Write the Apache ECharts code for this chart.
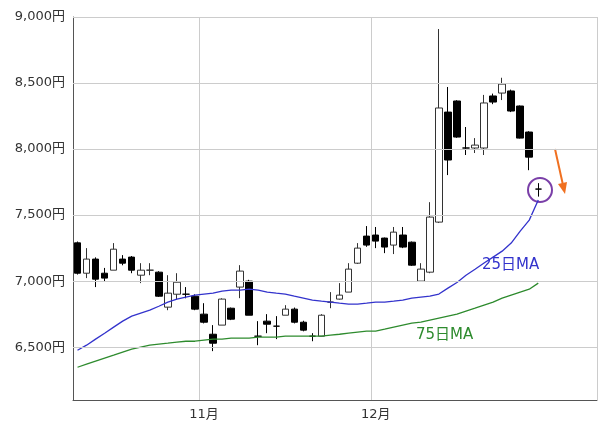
<!DOCTYPE html>
<html>
<head>
<meta charset="utf-8">
<script src="https://cdn.jsdelivr.net/npm/echarts@6/dist/echarts.min.js"></script>
<style>html,body{margin:0;padding:0;background:#fff}#main{width:600px;height:432px}</style>
</head>
<body>
<div id="main"></div>
<script>
// [open, close, low, high]
var candles = [
  [7290, 7060, 7050, 7300], [7060, 7167, 7023, 7250], [7167, 7015, 6955, 7180], [7060, 7023, 6995, 7100],
  [7083, 7242, 7083, 7288], [7167, 7136, 7120, 7197], [7182, 7083, 7060, 7190], [7045, 7083, 6985, 7136],
  [7083, 7083, 7045, 7136], [7068, 6886, 6880, 7075], [6803, 6909, 6780, 7045], [6901, 6992, 6860, 7060],
  [6901, 6901, 6870, 6955], [6886, 6788, 6780, 6900], [6750, 6689, 6680, 6833], [6598, 6530, 6470, 6667],
  [6667, 6864, 6667, 6870], [6795, 6712, 6705, 6800], [6955, 7076, 6871, 7121], [7000, 6742, 6742, 7010],
  [6583, 6583, 6515, 6697], [6697, 6674, 6606, 6750], [6659, 6659, 6561, 6735], [6742, 6788, 6742, 6818],
  [6788, 6689, 6680, 6800], [6689, 6629, 6620, 6700], [6583, 6583, 6545, 6606], [6583, 6742, 6583, 6750],
  [6841, 6841, 6795, 6917], [6864, 6894, 6860, 6985], [6917, 7091, 6917, 7136], [7136, 7250, 7130, 7288],
  [7341, 7273, 7260, 7417], [7349, 7303, 7250, 7410], [7326, 7258, 7212, 7330], [7273, 7371, 7205, 7410],
  [7349, 7258, 7250, 7410], [7295, 7121, 7115, 7300], [7000, 7091, 7000, 7136], [7068, 7485, 7060, 7598],
  [7447, 8311, 7440, 8909], [8280, 7917, 7803, 8470], [8364, 8091, 8085, 8370], [8008, 8008, 7955, 8167],
  [8008, 8030, 7970, 8083], [8008, 8349, 7955, 8410], [8402, 8356, 8340, 8420], [8424, 8492, 8371, 8540],
  [8440, 8288, 8280, 8450], [8326, 8083, 8080, 8330], [8129, 7939, 7840, 8135], [7697, 7697, 7640, 7742]
];
var ma25 = [
  6477, 6515, 6561, 6606, 6652, 6697, 6735, 6758, 6780, 6810, 6841, 6864, 6879, 6894, 6902, 6909,
  6924, 6932, 6932, 6939, 6932, 6917, 6909, 6902, 6886, 6871, 6856, 6848, 6841, 6833, 6826, 6826,
  6833, 6841, 6841, 6848, 6856, 6871, 6879, 6886, 6902, 6947, 6990, 7045, 7090, 7137, 7182, 7227,
  7288, 7379, 7462, 7614
];
var ma75 = [
  6348, 6371, 6394, 6417, 6439, 6462, 6485, 6500, 6515, 6523, 6530, 6538, 6545, 6545, 6553, 6561,
  6561, 6568, 6568, 6568, 6576, 6576, 6576, 6583, 6583, 6583, 6583, 6583, 6591, 6598, 6606, 6614,
  6621, 6621, 6636, 6652, 6667, 6682, 6689, 6705, 6720, 6735, 6750, 6773, 6795, 6818, 6841, 6871,
  6894, 6917, 6939, 6985
];
var monthTicks = { 14: '11月', 33: '12月' };
var yTicks = [6500, 7000, 7500, 8000, 8500, 9000];

var categories = [];
for (var i = 0; i < candles.length + 6; i++) categories.push(String(i));

var chart = echarts.init(document.getElementById('main'));
var showMonth = function (idx) { return monthTicks[idx] !== undefined; };
var labelFont = '"DejaVu Sans", "Noto Sans CJK JP", sans-serif';

chart.setOption({
  animation: false,
  grid: { left: 73, right: 3, top: 17, bottom: 32 },
  xAxis: {
    type: 'category',
    data: categories,
    boundaryGap: true,
    axisLine: { lineStyle: { color: '#555' } },
    axisTick: { show: false },
    axisLabel: {
      interval: showMonth,
      formatter: function (v, idx) { return monthTicks[idx] || ''; },
      color: '#333', fontSize: 13, fontFamily: labelFont, margin: 8
    },
    splitLine: { show: true, interval: showMonth, lineStyle: { color: '#ccc' } }
  },
  yAxis: {
    type: 'value',
    min: 6100, max: 9000,
    axisLine: { show: true, lineStyle: { color: '#555' } },
    axisTick: { show: false },
    splitLine: { show: false },
    axisLabel: {
      customValues: yTicks,
      formatter: function (v) { return v.toLocaleString('en-US') + '円'; },
      color: '#333', fontSize: 13, fontFamily: labelFont
    }
  },
  series: [
    {
      type: 'candlestick',
      data: candles,
      barWidth: 7,
      itemStyle: { color: '#fff', color0: '#000', borderColor: '#333', borderColor0: '#000', borderWidth: 1 },
      markLine: {
        silent: true, symbol: 'none', label: { show: false },
        lineStyle: { color: '#ccc', type: 'solid', width: 1 },
        data: yTicks.map(function (v) { return { yAxis: v }; })
      }
    },
    { type: 'line', data: ma25, symbol: 'none', lineStyle: { color: '#3333cc', width: 1.3 } },
    { type: 'line', data: ma75, symbol: 'none', lineStyle: { color: '#2e8b2e', width: 1.3 } }
  ],
  graphic: [
    { type: 'text', left: 482, top: 258, style: { text: '25日MA', fill: '#3333cc', font: '15px ' + labelFont } },
    { type: 'text', left: 416, top: 328, style: { text: '75日MA', fill: '#2e8b2e', font: '15px ' + labelFont } },
    { type: 'circle', shape: { cx: 540, cy: 190, r: 12 }, style: { fill: 'none', stroke: '#7a3fa8', lineWidth: 2 } },
    { type: 'line', shape: { x1: 555, y1: 149, x2: 563, y2: 185 }, style: { stroke: '#f07020', lineWidth: 2 } },
    { type: 'polygon', shape: { points: [[558, 184], [567, 182], [565, 194]] }, style: { fill: '#f07020' } }
  ]
});
</script>
</body>
</html>
